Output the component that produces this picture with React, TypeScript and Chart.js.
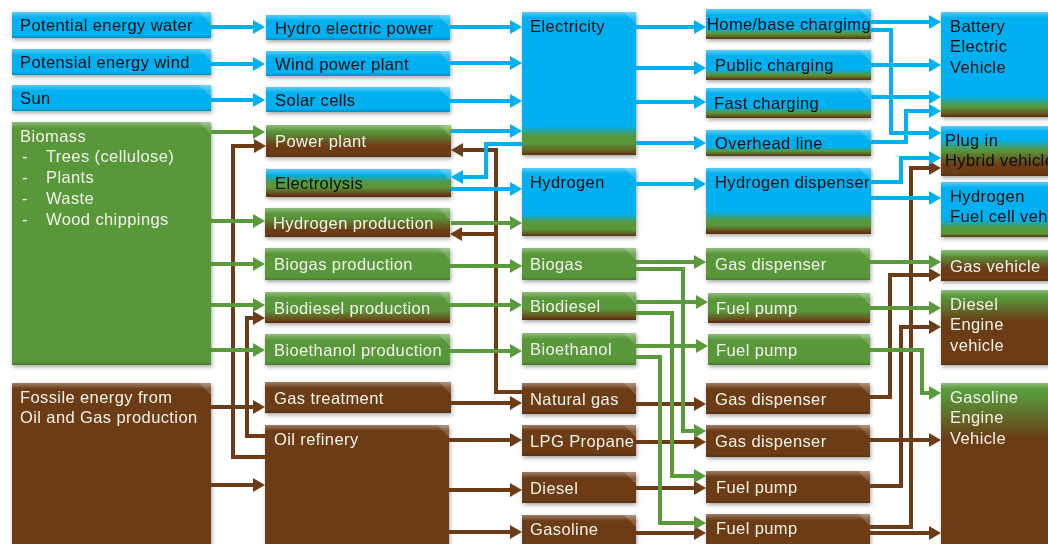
import React, { useEffect, useRef } from 'react';
import { Chart, registerables } from 'chart.js';

Chart.register(...registerables);

const BLUE = '#00B0F0';
const GREEN = '#58983A';
const BROWN = '#6B3C16';

// ---------- node labels (data) ----------
const sourceLabels = [
  'Potential energy water',
  'Potensial energy wind',
  'Sun',
  'Biomass\n-\tTrees (cellulose)\n-\tPlants\n-\tWaste\n-\tWood chippings',
  'Fossile energy from\nOil and Gas production',
];
const conversionLabels = [
  'Hydro electric power', 'Wind power plant', 'Solar cells', 'Power plant', 'Electrolysis',
  'Hydrogen production', 'Biogas production', 'Biodiesel production', 'Bioethanol production',
  'Gas treatment', 'Oil refinery',
];
const carrierLabels = [
  'Electricity', 'Hydrogen', 'Biogas', 'Biodiesel', 'Bioethanol', 'Natural gas', 'LPG Propane', 'Diesel', 'Gasoline',
];
const distributionLabels = [
  'Home/base chargimg', 'Public charging', 'Fast charging', 'Overhead line', 'Hydrogen dispenser',
  'Gas dispenser', 'Fuel pump', 'Fuel pump', 'Gas dispenser', 'Gas dispenser', 'Fuel pump', 'Fuel pump',
];
const vehicleLabels = [
  'Battery\nElectric\nVehicle', 'Plug in\nHybrid vehicle', 'Hydrogen\nFuel cell vehicle',
  'Gas vehicle', 'Diesel\nEngine\nvehicle', 'Gasoline\nEngine\nVehicle',
];

// ---------- layout (x0, y0, x1, y1 in diagram units) ----------
const sourceRects = [[12, 12, 211, 38], [12, 49, 211, 75], [12, 85, 211, 111], [12, 122, 211, 365], [12, 383, 211, 570]];
const conversionRects = [[266, 15, 450, 40], [266, 51, 450, 76], [266, 87, 450, 112], [266, 125, 451, 157], [266, 169, 451, 197],
  [265, 208, 450, 237], [265, 248, 450, 280], [265, 292, 450, 323], [265, 334, 450, 365], [265, 382, 451, 413], [265, 425, 449, 570]];
const carrierRects = [[522, 12, 636, 155], [522, 168, 636, 236], [522, 248, 636, 280], [522, 292, 636, 320], [522, 333, 636, 365],
  [522, 383, 636, 414], [522, 425, 636, 456], [522, 472, 636, 503], [522, 515, 636, 570]];
const distributionRects = [[706, 9, 871, 39], [706, 50, 871, 80], [706, 88, 871, 118], [706, 130, 871, 156], [706, 168, 871, 234],
  [706, 248, 870, 280], [708, 293, 870, 323], [708, 334, 870, 365], [706, 383, 870, 414], [706, 425, 870, 457], [706, 471, 870, 503], [706, 514, 870, 570]];
const vehicleRects = [[941, 12, 1070, 117], [941, 126, 1070, 176], [941, 182, 1070, 237], [941, 250, 1070, 281], [941, 290, 1070, 365], [941, 383, 1070, 570]];

const sourceTextDx = [8, 8, 8, 8, 8];
const conversionTextDx = [9, 9, 9, 9, 9, 8, 9, 9, 9, 9, 9];
const carrierTextDx = [8, 8, 8, 8, 8, 8, 8, 8, 8];
const distributionTextDx = [1, 9, 8, 9, 9, 9, 8, 8, 9, 9, 10, 10];
const vehicleTextDx = [9, 4, 9, 9, 9, 9];

// ---------- styles ----------
const sourceFills = ['B', 'B', 'B', 'G', 'N'];
const conversionFills = ['B', 'B', 'B', 'pp', 'ely', 'hp', 'G', 'gn', 'G', 'N', 'N'];
const carrierFills = ['elec', 'h2', 'G', 'gn', 'G', 'N', 'N', 'N', 'N'];
const distributionFills = ['chg', 'chg', 'chg', 'chg', 'h2d', 'G', 'gn', 'G', 'N', 'N', 'N', 'N'];
const vehicleFills = ['bev', 'phev', 'fcv', 'gv', 'dv', 'pv'];

const fillStops: Record<string, [number, string][]> = {
  B: [[0, BLUE], [1, BLUE]],
  G: [[0, GREEN], [1, GREEN]],
  N: [[0, BROWN], [1, BROWN]],
  chg: [[0, BLUE], [0.66, BLUE], [0.82, GREEN], [1, BROWN]],
  h2d: [[0, BLUE], [0.66, BLUE], [0.8, GREEN], [0.87, GREEN], [0.97, BROWN]],
  elec: [[0, BLUE], [0.8, BLUE], [0.87, GREEN], [0.92, GREEN], [1, BROWN]],
  h2: [[0, BLUE], [0.68, BLUE], [0.8, GREEN], [0.9, GREEN], [1, BROWN]],
  bev: [[0, BLUE], [0.8, BLUE], [0.9, GREEN], [1, BROWN]],
  phev: [[0, BLUE], [0.28, BLUE], [0.48, GREEN], [0.78, BROWN]],
  fcv: [[0, BLUE], [0.68, BLUE], [0.84, GREEN], [0.94, GREEN], [1, BROWN]],
  gv: [[0, GREEN], [0.15, GREEN], [0.6, BROWN]],
  dv: [[0, GREEN], [0.1, GREEN], [0.42, BROWN]],
  pv: [[0, GREEN], [0.06, GREEN], [0.3, BROWN]],
  pp: [[0, GREEN], [0.2, GREEN], [0.65, BROWN]],
  ely: [[0, BLUE], [0.2, BLUE], [0.5, GREEN], [0.65, GREEN], [0.92, BROWN]],
  hp: [[0, GREEN], [0.3, GREEN], [0.78, BROWN]],
  gn: [[0, GREEN], [0.6, GREEN], [0.95, BROWN]],
};

// ---------- flows (polylines; last point is the arrow tip) ----------
const blueRoutes = [
  [[211, 27], [265, 27]],
  [[211, 64], [265, 64]],
  [[211, 100], [265, 100]],
  [[450, 27], [522, 27]],
  [[450, 63], [522, 63]],
  [[450, 101], [522, 101]],
  [[451, 131], [522, 131]],
  [[522, 144], [486, 144], [486, 177], [451, 177]],
  [[451, 189], [522, 189]],
  [[636, 27], [706, 27]],
  [[636, 68], [706, 68]],
  [[636, 102], [706, 102]],
  [[636, 143], [706, 143]],
  [[636, 184], [706, 184]],
  [[871, 22], [941, 22]],
  [[871, 30], [891, 30], [891, 133], [941, 133]],
  [[871, 65], [941, 65]],
  [[871, 97], [941, 97]],
  [[871, 142], [906, 142], [906, 111], [941, 111]],
  [[871, 182], [901, 182], [901, 158], [941, 158]],
  [[871, 198], [941, 198]],
];
const greenRoutes = [
  [[211, 132], [265, 132]],
  [[211, 221], [265, 221]],
  [[211, 264], [265, 264]],
  [[211, 305], [265, 305]],
  [[211, 350], [265, 350]],
  [[451, 223], [522, 223]],
  [[450, 266], [522, 266]],
  [[450, 305], [522, 305]],
  [[450, 351], [522, 351]],
  [[636, 262], [706, 262]],
  [[636, 269], [683, 269], [683, 431], [706, 431]],
  [[636, 302], [708, 302]],
  [[636, 313], [672, 313], [672, 476], [706, 476]],
  [[636, 346], [708, 346]],
  [[636, 357], [660, 357], [660, 523], [706, 523]],
  [[870, 262], [941, 262]],
  [[870, 308], [941, 308]],
  [[870, 350], [922, 350], [922, 393], [941, 393]],
];
const brownRoutes = [
  [[211, 407], [265, 407]],
  [[211, 485], [265, 485]],
  [[265, 457], [233, 457], [233, 146], [266, 146]],
  [[265, 436], [247, 436], [247, 318], [265, 318]],
  [[451, 403], [522, 403]],
  [[449, 440], [522, 440]],
  [[449, 490], [522, 490]],
  [[449, 532], [522, 532]],
  [[522, 392], [496, 392], [496, 150], [451, 150]],
  [[496, 234], [450, 234]],
  [[636, 404], [706, 404]],
  [[636, 442], [706, 442]],
  [[636, 488], [706, 488]],
  [[636, 533], [706, 533]],
  [[870, 527], [911, 527], [911, 168], [941, 168]],
  [[870, 486], [901, 486], [901, 327], [941, 327]],
  [[870, 397], [890, 397], [890, 275], [941, 275]],
  [[870, 440], [941, 440]],
  [[870, 533], [941, 533]],
];

const ARROW_R = 8;

function buildDataset(route: number[][], color: string) {
  const n = route.length;
  const [ax, ay] = route[n - 2];
  const [bx, by] = route[n - 1];
  const dx = Math.sign(bx - ax);
  const dy = Math.sign(by - ay);
  const pts = route.map(([x, y], i) =>
    i === n - 1 ? { x: x - dx * ARROW_R, y: y - dy * ARROW_R } : { x, y });
  const rot = dx > 0 ? 90 : dx < 0 ? 270 : dy > 0 ? 180 : 0;
  return {
    data: pts,
    showLine: true,
    borderColor: color,
    backgroundColor: color,
    borderWidth: 4,
    borderJoinStyle: 'miter',
    borderCapStyle: 'butt',
    tension: 0,
    fill: false,
    clip: false,
    pointStyle: 'triangle',
    pointRadius: pts.map((_, i) => (i === n - 1 ? ARROW_R : 0)),
    pointHoverRadius: pts.map((_, i) => (i === n - 1 ? ARROW_R : 0)),
    pointRotation: rot,
    pointBackgroundColor: color,
    pointBorderColor: color,
    pointBorderWidth: 0,
  };
}

type Box = { label: string; rect: number[]; fill: string; dx: number };

function collectBoxes(): Box[] {
  const cols: [string[], number[][], string[], number[]][] = [
    [sourceLabels, sourceRects, sourceFills, sourceTextDx],
    [conversionLabels, conversionRects, conversionFills, conversionTextDx],
    [carrierLabels, carrierRects, carrierFills, carrierTextDx],
    [distributionLabels, distributionRects, distributionFills, distributionTextDx],
    [vehicleLabels, vehicleRects, vehicleFills, vehicleTextDx],
  ];
  const out: Box[] = [];
  cols.forEach(([labels, rects, fills, dxs]) => {
    labels.forEach((label, i) => out.push({ label, rect: rects[i], fill: fills[i], dx: dxs[i] }));
  });
  return out;
}

const boxPlugin = {
  id: 'flowBoxes',
  beforeDatasetsDraw(chart: any) {
    const { ctx, scales } = chart;
    const sx = scales.x;
    const sy = scales.y;
    const boxes = collectBoxes();
    boxes.forEach((b) => {
      const x0 = sx.getPixelForValue(b.rect[0]);
      const x1 = sx.getPixelForValue(b.rect[2]);
      const y0 = sy.getPixelForValue(b.rect[1]);
      const y1 = sy.getPixelForValue(b.rect[3]);
      const w = x1 - x0;
      const h = y1 - y0;
      const stops = fillStops[b.fill];
      const grad = ctx.createLinearGradient(0, y0, 0, y1);
      stops.forEach(([p, c]) => grad.addColorStop(p, c));

      ctx.save();
      ctx.shadowColor = 'rgba(0,0,0,0.35)';
      ctx.shadowBlur = 4;
      ctx.shadowOffsetX = 1;
      ctx.shadowOffsetY = 2;
      ctx.fillStyle = grad;
      ctx.fillRect(x0, y0, w, h);
      ctx.restore();

      // bevel highlights
      ctx.save();
      const top = ctx.createLinearGradient(0, y0, 0, y0 + 6);
      top.addColorStop(0, 'rgba(255,255,255,0.35)');
      top.addColorStop(1, 'rgba(255,255,255,0)');
      ctx.fillStyle = top;
      ctx.fillRect(x0, y0, w, 6);
      ctx.beginPath();
      ctx.moveTo(x1 - 12, y0);
      ctx.lineTo(x1, y0);
      ctx.lineTo(x1, y0 + 12);
      ctx.closePath();
      ctx.fillStyle = 'rgba(255,255,255,0.18)';
      ctx.fill();
      const bot = ctx.createLinearGradient(0, y1 - 3, 0, y1);
      bot.addColorStop(0, 'rgba(0,0,0,0)');
      bot.addColorStop(1, 'rgba(0,0,0,0.2)');
      ctx.fillStyle = bot;
      ctx.fillRect(x0, y1 - 3, w, 3);
      ctx.restore();

      // text
      const dark = stops[0][1] === BLUE;
      ctx.save();
      ctx.font = '16.5px "Liberation Sans", Arial, sans-serif';
      (ctx as any).letterSpacing = '0.4px';
      ctx.fillStyle = dark ? '#0c0c0c' : '#F3F3EA';
      ctx.textBaseline = 'middle';
      ctx.textAlign = 'left';
      const lines = b.label.split('\n');
      const tall = h > 45;
      const lh = 20.8;
      const firstY = tall ? y0 + 15 : y0 + h / 2 + 1.5;
      lines.forEach((ln, k) => {
        const ty = firstY + k * lh;
        if (ln.includes('\t')) {
          const [dash, txt] = ln.split('\t');
          ctx.fillText(dash, x0 + 10, ty);
          ctx.fillText(txt, x0 + 34, ty);
        } else {
          ctx.fillText(ln, x0 + b.dx, ty);
        }
      });
      ctx.restore();
    });
  },
};

export default function App() {
  const ref = useRef<HTMLCanvasElement | null>(null);
  useEffect(() => {
    if (!ref.current) return;
    const datasets = [
      ...blueRoutes.map((r) => buildDataset(r, BLUE)),
      ...greenRoutes.map((r) => buildDataset(r, '#5A9A3C')),
      ...brownRoutes.map((r) => buildDataset(r, BROWN)),
    ];
    const chart = new Chart(ref.current, {
      type: 'scatter',
      data: { datasets: datasets as any },
      options: {
        animation: false,
        responsive: false,
        devicePixelRatio: 1,
        layout: { padding: 0, autoPadding: false },
        events: [],
        plugins: { legend: { display: false }, tooltip: { enabled: false } },
        scales: {
          x: { type: 'linear', min: 0, max: 1048, display: false },
          y: { type: 'linear', min: 0, max: 544, reverse: true, display: false },
        },
      },
      plugins: [boxPlugin],
    });
    return () => chart.destroy();
  }, []);
  return (
    <div style={{ position: 'fixed', left: 0, top: 0, width: 1048, height: 544, background: '#fff' }}>
      <canvas ref={ref} width={1048} height={544} style={{ display: 'block', width: 1048, height: 544 }} />
    </div>
  );
}
